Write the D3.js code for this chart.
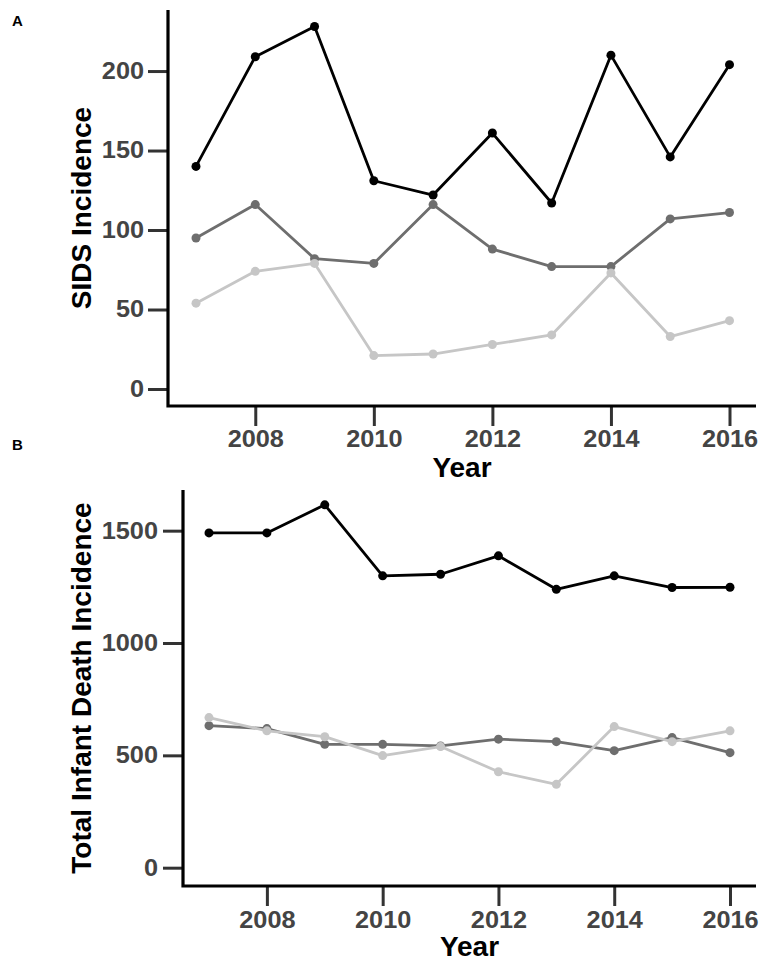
<!DOCTYPE html>
<html><head><meta charset="utf-8">
<script src="https://cdn.jsdelivr.net/npm/d3@7"></script>
<style>
html,body{margin:0;padding:0;background:#fff;}
svg{display:block;font-family:"Liberation Sans",Arial,Helvetica,sans-serif;}
</style></head>
<body>
<svg id="chart" width="765" height="965"></svg>
<script>
// ---- data ----
const years = [2007, 2008, 2009, 2010, 2011, 2012, 2013, 2014, 2015, 2016];
const xTicks = [2008, 2010, 2012, 2014, 2016];

const sidsBlack = [140, 209, 228, 131, 122, 161, 117, 210, 146, 204];
const sidsDark  = [95, 116, 82, 79, 116, 88, 77, 77, 107, 111];
const sidsLight = [54, 74, 79, 21, 22, 28, 34, 73, 33, 43];
const sidsTicks = [0, 50, 100, 150, 200];

const totalBlack = [1490, 1490, 1615, 1299, 1306, 1388, 1239, 1299, 1247, 1248];
const totalDark  = [632, 619, 549, 549, 542, 572, 561, 521, 579, 512];
const totalLight = [668, 609, 583, 499, 539, 427, 371, 628, 561, 609];
const totalTicks = [0, 500, 1000, 1500];

const seriesColors = ["#000000", "#6e6e6e", "#c6c6c6"];

const svg = d3.select("#chart");
const SX = 1.1; // horizontal stretch of tick labels

function panel(cfg) {
  const g = svg.append("g");
  const x = d3.scaleLinear().domain([2007, 2016]).range([cfg.x0, cfg.x1]);
  const y = d3.scaleLinear().domain([cfg.ymin, cfg.ymax]).range([cfg.bottom, cfg.top]);

  // axes
  const ya = g.append("g").attr("transform", `translate(${cfg.left},0)`)
    .call(d3.axisLeft(y).tickValues(cfg.yTicks).tickFormat(d3.format("d")).tickSize(cfg.tick).tickPadding(cfg.yPad).tickSizeOuter(0));
  const xa = g.append("g").attr("transform", `translate(0,${cfg.bottom})`)
    .call(d3.axisBottom(x).tickValues(xTicks).tickFormat(d3.format("d")).tickSize(cfg.tick).tickPadding(cfg.xPad).tickSizeOuter(0));
  [ya, xa].forEach(a => {
    a.select(".domain").remove();
    a.selectAll(".tick line").attr("stroke", "#333").attr("stroke-width", 3);
    a.selectAll(".tick text").attr("fill", "#444").attr("font-size", 23).attr("font-weight", "bold")
      .attr("font-family", "'Liberation Sans', Arial, sans-serif")
      .each(function() {
        const t = d3.select(this);
        const xv = +t.attr("x") || 0;
        t.attr("x", xv / SX).attr("transform", `scale(${SX},1)`);
      });
  });
  // axis lines
  g.append("path")
    .attr("d", `M${cfg.left},${cfg.top}V${cfg.bottom}H${cfg.right}`)
    .attr("fill", "none").attr("stroke", "#000").attr("stroke-width", 3.2);

  const line = d3.line().x((d, i) => x(years[i])).y(d => y(d));
  cfg.series.forEach((s, k) => {
    g.append("path").datum(s).attr("d", line)
      .attr("fill", "none").attr("stroke", seriesColors[k]).attr("stroke-width", 2.8)
      .attr("stroke-linejoin", "round");
    g.selectAll(null).data(s).enter().append("circle")
      .attr("cx", (d, i) => x(years[i])).attr("cy", d => y(d)).attr("r", 4.5)
      .attr("fill", seriesColors[k]);
  });

  // titles
  g.append("text").attr("x", (cfg.left + cfg.right) / 2).attr("y", cfg.xTitleY)
    .attr("text-anchor", "middle").attr("font-size", 28).attr("font-weight", "bold").attr("fill", "#000")
    .text("Year");
  g.append("text")
    .attr("transform", `translate(${cfg.yTitleX},${(cfg.top + cfg.bottom) / 2}) rotate(-90)`)
    .attr("text-anchor", "middle").attr("font-size", 28).attr("font-weight", "bold").attr("fill", "#000")
    .text(cfg.yTitle);
  g.append("text").attr("x", 12).attr("y", cfg.labelY).attr("font-size", 15).attr("font-weight", "bold")
    .text(cfg.label);
}

panel({
  left: 168, right: 756, top: 10, bottom: 406, x0: 196, x1: 729.5,
  ymin: -10.7, ymax: 238.4, yTicks: sidsTicks, tick: 20, yPad: 4, xPad: 5,
  series: [sidsBlack, sidsDark, sidsLight],
  xTitleY: 477, yTitleX: 91, yTitle: "SIDS Incidence", label: "A", labelY: 26
});

panel({
  left: 183, right: 756, top: 490, bottom: 886, x0: 209, x1: 730,
  ymin: -81.5, ymax: 1681, yTicks: totalTicks, tick: 20, yPad: 5, xPad: 6,
  series: [totalBlack, totalDark, totalLight],
  xTitleY: 956, yTitleX: 91, yTitle: "Total Infant Death Incidence", label: "B", labelY: 450
});
</script>
</body></html>
